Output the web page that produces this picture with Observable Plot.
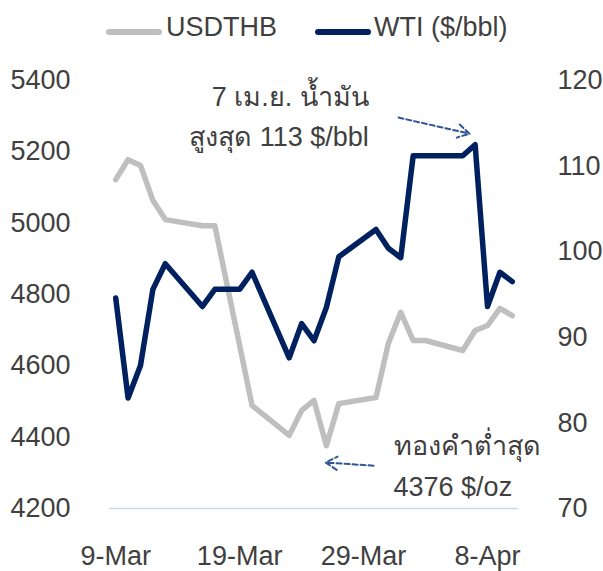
<!DOCTYPE html>
<html>
<head>
<meta charset="utf-8">
<script src="https://cdn.jsdelivr.net/npm/d3@7"></script>
<script src="https://cdn.jsdelivr.net/npm/@observablehq/plot@0.6"></script>
<style>
  html, body { margin: 0; padding: 0; background: #fff; }
  body { width: 603px; height: 571px; overflow: hidden; font-family: "Liberation Sans", Arial, "Noto Sans", sans-serif; color: #404040; }
  #legend { position: relative; height: 50px; width: 603px; }
  #legend .sw { position: absolute; top: 29px; height: 6px; width: 56px; border-radius: 3px; }
  #legend .lb { position: absolute; top: 14px; font-size: 27px; line-height: 27px; white-space: nowrap; }
  #chart svg { display: block; }
</style>
</head>
<body>
<div id="legend"></div>
<div id="chart"></div>
<script>
// ---- data ----
const dates = ["2026-03-09","2026-03-10","2026-03-11","2026-03-12","2026-03-13",
  "2026-03-16","2026-03-17","2026-03-18","2026-03-19","2026-03-20",
  "2026-03-23","2026-03-24","2026-03-25","2026-03-26","2026-03-27",
  "2026-03-30","2026-03-31","2026-04-01","2026-04-02","2026-04-03",
  "2026-04-06","2026-04-07","2026-04-08","2026-04-09","2026-04-10"];
const goldSeries = [5122, 5178, 5162, 5064, 5010,
  4993, 4993, 4825, 4657, 4489,
  4405, 4475, 4503, 4376, 4494,
  4511, 4663, 4750, 4671, 4671,
  4643, 4699, 4713, 4761, 4741];
const wtiSeries = [94.6, 82.9, 86.7, 95.6, 98.6,
  93.6, 95.6, 95.6, 95.6, 97.6,
  87.6, 91.6, 89.6, 93.5, 99.4,
  102.6, 100.4, 99.3, 111.2, 111.2,
  111.2, 112.5, 93.6, 97.6, 96.5];
const seriesNames = ["USDTHB", "WTI ($/bbl)"];
const seriesColors = ["#BFBFBF", "#002060"];
const leftTicks = [4200, 4400, 4600, 4800, 5000, 5200, 5400];
const rightTicks = [70, 80, 90, 100, 110, 120];
const xTicks = ["2026-03-09", "2026-03-19", "2026-03-29", "2026-04-08"];
const xDomain = ["2026-03-08T12:00Z", "2026-04-10T12:00Z"];
const annotations = [
  {x: "2026-03-29T10:00Z", y: 5309, anchor: "end", text: "7 เม.ย. น้ำมัน\nสูงสุด 113 $/bbl"},
  {x: "2026-03-31T10:00Z", y: 4330, anchor: "start", text: "ทองคำต่ำสุด\n4376 $/oz"}
];
const arrows = [
  {x1: "2026-03-31T19:40Z", y1: 5296, x2: "2026-04-06T13:10Z", y2: 5251},
  {x1: "2026-03-29T19:12Z", y1: 4320, x2: "2026-03-25T22:30Z", y2: 4329}
];

// ---- scales mapping WTI onto left axis ----
const wtiToLeft = d3.scaleLinear().domain([70, 120]).range([4200, 5400]);
const parse = s => new Date(s.length === 10 ? s + "T00:00:00Z" : s);

const gold = dates.map((d, i) => ({date: parse(d), v: goldSeries[i]}));
const wti = dates.map((d, i) => ({date: parse(d), v: wtiToLeft(wtiSeries[i])}));
const ann = annotations.map(a => ({...a, x: parse(a.x)}));
const arr = arrows.map(a => ({...a, x1: parse(a.x1), x2: parse(a.x2)}));

// ---- legend ----
const legend = document.getElementById("legend");
const legendPos = [[106, 166], [315, 374]];
seriesNames.forEach((name, i) => {
  const sw = document.createElement("div");
  sw.className = "sw"; sw.style.left = legendPos[i][0] + "px"; sw.style.background = seriesColors[i];
  const lb = document.createElement("span");
  lb.className = "lb"; lb.style.left = legendPos[i][1] + "px"; lb.textContent = name;
  legend.append(sw, lb);
});

const fmt = d3.utcFormat("%-d-%b");

const chart = Plot.plot({
  width: 603,
  height: 521,
  marginTop: 30,
  marginBottom: 63,
  marginLeft: 109,
  marginRight: 85,
  style: {fontSize: "27px", fontFamily: "'Liberation Sans', Arial, 'Noto Sans', sans-serif", color: "#404040", background: "white"},
  x: {type: "utc", domain: xDomain.map(parse)},
  y: {domain: [4200, 5400]},
  marks: [
    Plot.ruleY([4200], {stroke: "#C5D9F1", strokeWidth: 1.5}),
    Plot.axisY(leftTicks, {anchor: "left", tickSize: 0, tickPadding: 39, tickFormat: d => String(d), label: null}),
    Plot.axisY(rightTicks.map(t => wtiToLeft(t)), {anchor: "right", tickSize: 0, tickPadding: 39, tickFormat: d => String(Math.round(wtiToLeft.invert(d))), label: null}),
    Plot.axisX(xTicks.map(parse), {anchor: "bottom", tickSize: 0, tickPadding: 37, tickFormat: fmt, label: null}),
    Plot.line(gold, {x: "date", y: "v", stroke: seriesColors[0], strokeWidth: 5.5, strokeLinejoin: "round", strokeLinecap: "round"}),
    Plot.line(wti, {x: "date", y: "v", stroke: seriesColors[1], strokeWidth: 5.5, strokeLinejoin: "round", strokeLinecap: "round"}),
    Plot.arrow(arr, {x1: "x1", y1: "y1", x2: "x2", y2: "y2", stroke: "#2F5597", strokeWidth: 2, strokeDasharray: "5,3", headLength: 10, bend: 0}),
    Plot.text(ann.filter(a => a.anchor === "end"), {x: "x", y: "y", text: "text", textAnchor: "end", lineHeight: 1.5, fill: "#404040"}),
    Plot.text(ann.filter(a => a.anchor === "start"), {x: "x", y: "y", text: "text", textAnchor: "start", lineHeight: 1.55, fill: "#404040"})
  ]
});
document.getElementById("chart").append(chart);
</script>
</body>
</html>
